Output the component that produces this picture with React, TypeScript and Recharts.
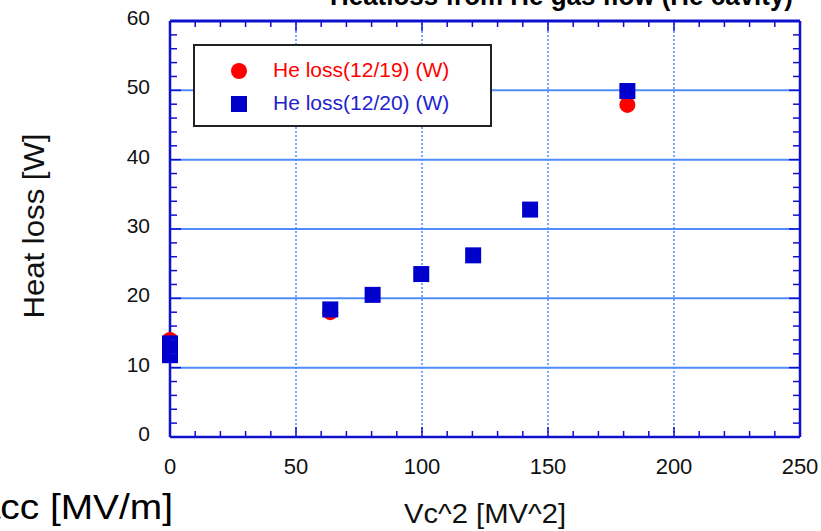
import { ScatterChart, Scatter, XAxis, YAxis, Legend, ReferenceLine } from 'recharts'

const heLoss1219 = [
	{ x: 0, y: 14.0 },
	{ x: 63.6, y: 18.0 },
	{ x: 181.5, y: 47.9 },
]

const heLoss1220 = [
	{ x: 0, y: 13.5 },
	{ x: 0, y: 11.8 },
	{ x: 63.6, y: 18.4 },
	{ x: 80.4, y: 20.5 },
	{ x: 99.7, y: 23.5 },
	{ x: 120.3, y: 26.2 },
	{ x: 142.9, y: 32.8 },
	{ x: 181.5, y: 49.9 },
]

const xGrid = [50, 100, 150, 200]
const yGrid = [10, 20, 30, 40, 50]
// minor ticks: every 10 on x, every 2 on y; labels only on the major ones
const xTicks = Array.from({ length: 26 }, (_, i) => i * 10)
const yTicks = Array.from({ length: 31 }, (_, i) => i * 2)

const W = 821
const H = 531
const LEFT = 170
const RIGHT = 800
const TOP = 21
const BOTTOM = 437

const AXIS = '#1010cc'
const GRID = '#4f8dff'
const FONT = '"Liberation Sans", Arial, sans-serif'

const YTick = (props: any) => {
	const { y, payload } = props
	const v = payload.value
	const major = v % 10 === 0
	const len = major ? 11 : 7
	return (
		<g>
			<line x1={LEFT} x2={LEFT + len} y1={y} y2={y} stroke={AXIS} strokeWidth={1.5} />
			<line x1={RIGHT} x2={RIGHT - len} y1={y} y2={y} stroke={AXIS} strokeWidth={1.5} />
			{major && (
				<text x={150} y={y + 4} textAnchor="end" fontSize={21} fill="#111" fontFamily={FONT}>
					{v}
				</text>
			)}
		</g>
	)
}

const XTick = (props: any) => {
	const { x, payload } = props
	const v = payload.value
	const major = v % 50 === 0
	const len = major ? 10 : 6
	return (
		<g>
			<line x1={x} x2={x} y1={BOTTOM} y2={BOTTOM - len} stroke={AXIS} strokeWidth={1.5} />
			<line x1={x} x2={x} y1={TOP} y2={TOP + len} stroke={AXIS} strokeWidth={1.5} />
			{major && (
				<text x={x} y={474} textAnchor="middle" fontSize={22} fill="#111" fontFamily={FONT}>
					{v}
				</text>
			)}
		</g>
	)
}

const RedDot = (props: any) => <circle cx={props.cx} cy={props.cy} r={8} fill="#ff0000" />
const BlueSquare = (props: any) => (
	<rect x={props.cx - 8} y={props.cy - 8} width={16} height={16} fill="#0000cc" />
)

const LegendBox = () => (
	<div
		style={{
			width: 295,
			height: 79,
			border: '2px solid #222',
			background: '#fff',
			position: 'relative',
			fontFamily: FONT,
			fontSize: 21,
		}}
	>
		<div style={{ position: 'absolute', left: 36, top: 17, width: 16, height: 16, borderRadius: 8, background: '#ff0000' }} />
		<div style={{ position: 'absolute', left: 78, top: 12, color: '#ff0000', whiteSpace: 'nowrap' }}>He loss(12/19) (W)</div>
		<div style={{ position: 'absolute', left: 36, top: 50, width: 16, height: 16, background: '#0000cc' }} />
		<div style={{ position: 'absolute', left: 78, top: 45, color: '#2222cc', whiteSpace: 'nowrap' }}>He loss(12/20) (W)</div>
	</div>
)

export default function App() {
	return (
		<div style={{ position: 'absolute', left: 0, top: 0, width: W, height: H, background: '#fff', overflow: 'hidden' }}>
			{/* title and the neighbouring slide's axis title, both cut by the crop */}
			<svg width={W} height={H} style={{ position: 'absolute', left: 0, top: 0, pointerEvents: 'none' }}>
				<text
					x={330}
					y={5}
					fontFamily={FONT}
					fontWeight="bold"
					fontSize={27}
					fill="#000"
					textLength={463}
					lengthAdjust="spacingAndGlyphs"
				>
					Heatloss from He gas flow (He cavity)
				</text>
				<text
					x={0}
					y={0}
					transform="translate(173 519) scale(1.08 1)"
					textAnchor="end"
					fontFamily={FONT}
					fontSize={36}
					fill="#000"
				>
					Eacc [MV/m]
				</text>
			</svg>
			<ScatterChart
				width={W}
				height={H}
				margin={{ top: TOP, right: W - RIGHT, bottom: H - BOTTOM - 60, left: LEFT - 60 }}
			>
				{yGrid.map((v) => (
					<ReferenceLine key={'h' + v} y={v} stroke={GRID} strokeWidth={2} />
				))}
				{xGrid.map((v) => (
					<ReferenceLine key={'v' + v} x={v} stroke={GRID} strokeWidth={1.5} strokeDasharray="2 2" />
				))}
				<XAxis
					type="number"
					dataKey="x"
					domain={[0, 250]}
					ticks={xTicks}
					interval={0}
					height={60}
					tickLine={false}
					axisLine={{ stroke: AXIS, strokeWidth: 2.5 }}
					tick={<XTick />}
					label={({ viewBox }: any) => (
						<text
							x={viewBox.x + viewBox.width / 2}
							y={523}
							textAnchor="middle"
							fontSize={28}
							fontFamily={FONT}
							fill="#111"
							textLength={162}
							lengthAdjust="spacingAndGlyphs"
						>
							Vc^2 [MV^2]
						</text>
					)}
				/>
				<YAxis
					type="number"
					dataKey="y"
					domain={[0, 60]}
					ticks={yTicks}
					interval={0}
					width={60}
					tickLine={false}
					axisLine={{ stroke: AXIS, strokeWidth: 2.5 }}
					tick={<YTick />}
					label={() => (
						<text
							x={0}
							y={0}
							transform="translate(44 226) rotate(-90)"
							textAnchor="middle"
							fontSize={30}
							fontFamily={FONT}
							fill="#111"
							textLength={185}
							lengthAdjust="spacingAndGlyphs"
						>
							Heat loss [W]
						</text>
					)}
				/>
				<ReferenceLine y={60} stroke={AXIS} strokeWidth={3} />
				<ReferenceLine x={250} stroke={AXIS} strokeWidth={2.5} />
				<Legend
					layout="horizontal"
					verticalAlign="middle"
					align="center"
					content={<LegendBox />}
					wrapperStyle={{ position: 'absolute', left: 193, top: 44, width: 299, height: 83 }}
				/>
				<Scatter data={heLoss1219} shape={<RedDot />} isAnimationActive={false} />
				<Scatter data={heLoss1220} shape={<BlueSquare />} isAnimationActive={false} />
			</ScatterChart>
		</div>
	)
}
